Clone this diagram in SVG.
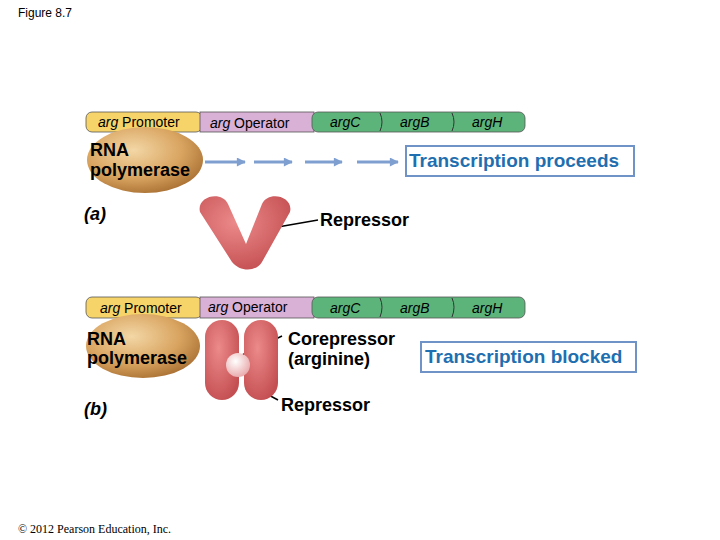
<svg xmlns="http://www.w3.org/2000/svg" width="720" height="540" viewBox="0 0 720 540">
<defs>
<radialGradient id="pol" cx="0.4" cy="0.35" r="0.7"><stop offset="0" stop-color="#f3d7a6"/><stop offset="0.6" stop-color="#d9a460"/><stop offset="1" stop-color="#a86f32"/></radialGradient>
<radialGradient id="rep" cx="0.4" cy="0.35" r="0.7"><stop offset="0" stop-color="#ec8a8a"/><stop offset="1" stop-color="#c44f52"/></radialGradient>
<radialGradient id="cor" cx="0.4" cy="0.35" r="0.7"><stop offset="0" stop-color="#ffffff"/><stop offset="1" stop-color="#e8a6a8"/></radialGradient>
<marker id="ah" viewBox="0 0 10 10" refX="9" refY="5" markerWidth="3.5" markerHeight="3" orient="auto"><path d="M0,0L10,5L0,10z" fill="#7f9fd0"/></marker>
</defs>
<style>
text{font-family:"Liberation Sans",Arial,sans-serif;fill:#000}
.s{font-size:14px}.l{font-size:18px;font-weight:bold}
.blue{fill:#1f6fb0;font-weight:bold;font-size:19px}
.bx{fill:#fff;stroke:#6f93c7;stroke-width:2}
.arr{stroke:#7f9fd0;stroke-width:3;marker-end:url(#ah)}
.ln{stroke:#000;stroke-width:1.5}
.seg{stroke:#555;stroke-width:0.8}
</style>
<text x="18" y="17" style="font-size:12px">Figure 8.7</text>
<g id="dna-a">
<rect x="86" y="112" width="116" height="20" rx="6" fill="#f7d46a" class="seg"/>
<rect x="200" y="112" width="114" height="20" fill="#d9b0d6" class="seg"/>
<rect x="312" y="112" width="213" height="20" rx="6" fill="#5db47a" class="seg"/>
<path d="M380,113 q4,9 0,18 M452,113 q4,9 0,18" fill="none" stroke="#333"/>
<text x="98" y="127" class="s"><tspan font-style="italic">arg</tspan> Promoter</text>
<text x="210" y="128" class="s"><tspan font-style="italic">arg</tspan> Operator</text>
<text x="330" y="127" class="s" font-style="italic">argC</text>
<text x="400" y="127" class="s" font-style="italic">argB</text>
<text x="472" y="127" class="s" font-style="italic">argH</text>
</g>
<g id="pol-a"><ellipse cx="145" cy="160" rx="58" ry="33" fill="url(#pol)"/>
<text x="90" y="156" class="l">RNA</text><text x="90" y="176" class="l">polymerase</text></g>
<g id="connectors">
<line x1="205" y1="162" x2="245" y2="162" class="arr"/>
<line x1="254" y1="162" x2="292" y2="162" class="arr"/>
<line x1="305" y1="162" x2="342" y2="162" class="arr"/>
<line x1="357" y1="162" x2="398" y2="162" class="arr"/>
<line x1="272" y1="228" x2="318" y2="220" class="ln"/>
<line x1="238" y1="357" x2="282" y2="336" class="ln"/>
<line x1="250" y1="385" x2="278" y2="400" class="ln"/>
</g>
<g id="proceeds"><rect x="406" y="146" width="228" height="30" class="bx"/><text x="409" y="167" class="blue">Transcription proceeds</text></g>
<text x="84" y="220" style="font-size:18px;font-weight:bold;font-style:italic">(a)</text>
<g id="rep-a">
<path d="M200,212 C196,196 222,190 228,204 L246,244 L262,204 C268,190 294,196 290,212 L262,262 C256,272 240,272 232,262 Z" fill="url(#rep)"/>
<text x="320" y="226" class="l">Repressor</text></g>
<g id="dna-b">
<rect x="86" y="297" width="116" height="21" rx="6" fill="#f7d46a" class="seg"/>
<rect x="200" y="297" width="114" height="21" fill="#d9b0d6" class="seg"/>
<rect x="312" y="297" width="213" height="21" rx="6" fill="#5db47a" class="seg"/>
<path d="M380,298 q4,9 0,19 M452,298 q4,9 0,19" fill="none" stroke="#333"/>
<text x="100" y="313" class="s"><tspan font-style="italic">arg</tspan> Promoter</text>
<text x="208" y="312" class="s"><tspan font-style="italic">arg</tspan> Operator</text>
<text x="330" y="313" class="s" font-style="italic">argC</text>
<text x="400" y="313" class="s" font-style="italic">argB</text>
<text x="472" y="313" class="s" font-style="italic">argH</text>
</g>
<g id="pol-b"><ellipse cx="143" cy="346" rx="57" ry="32" fill="url(#pol)"/>
<text x="87" y="345" class="l">RNA</text><text x="87" y="364" class="l">polymerase</text></g>
<g id="rep-b">
<rect x="205" y="320" width="34" height="80" rx="17" fill="url(#rep)"/>
<rect x="244" y="320" width="34" height="80" rx="17" fill="url(#rep)"/>
<circle cx="238" cy="365" r="12" fill="url(#cor)"/>
<text x="288" y="345" class="l">Corepressor</text><text x="288" y="365" class="l">(arginine)</text>
<text x="281" y="411" class="l">Repressor</text></g>
<g id="blocked"><rect x="421" y="342" width="215" height="30" class="bx"/><text x="425" y="363" class="blue">Transcription blocked</text></g>
<text x="84" y="415" style="font-size:18px;font-weight:bold;font-style:italic">(b)</text>
<text x="18" y="533" style="font-family:'Liberation Serif',serif;font-size:12px">© 2012 Pearson Education, Inc.</text>
</svg>
